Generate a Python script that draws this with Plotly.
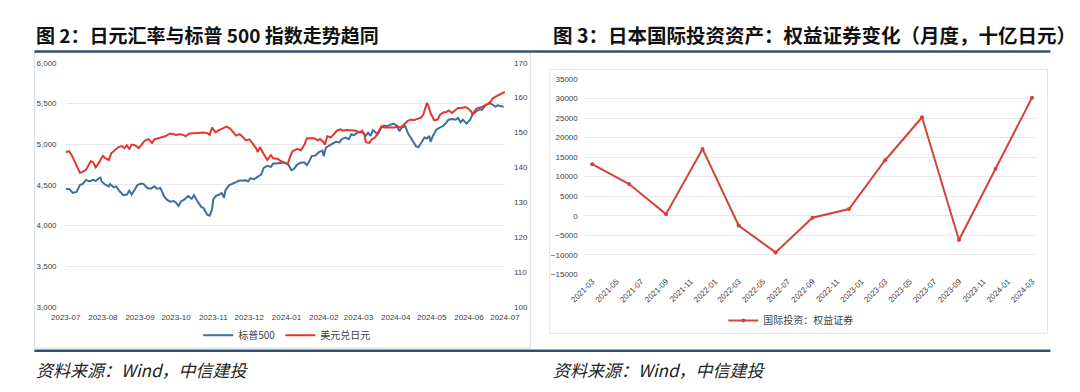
import plotly.graph_objects as go

# ---------------- data: left chart (S&P 500 vs USDJPY) ----------------
spx_dates = [
    "2023-07-01", "2023-07-04", "2023-07-07", "2023-07-10", "2023-07-13", "2023-07-15", "2023-07-18",
    "2023-07-21", "2023-07-24", "2023-07-26", "2023-07-29", "2023-07-30", "2023-07-31", "2023-08-03",
    "2023-08-06", "2023-08-07", "2023-08-10", "2023-08-12", "2023-08-15", "2023-08-18", "2023-08-21",
    "2023-08-23", "2023-08-25", "2023-08-27", "2023-08-30", "2023-09-02", "2023-09-04", "2023-09-07",
    "2023-09-10", "2023-09-13", "2023-09-15", "2023-09-18", "2023-09-21", "2023-09-23", "2023-09-26",
    "2023-09-29", "2023-10-01", "2023-10-03", "2023-10-05", "2023-10-08", "2023-10-11", "2023-10-14",
    "2023-10-16", "2023-10-19", "2023-10-22", "2023-10-24", "2023-10-27", "2023-10-29", "2023-10-31",
    "2023-11-01", "2023-11-03", "2023-11-06", "2023-11-08", "2023-11-10", "2023-11-11", "2023-11-14",
    "2023-11-17", "2023-11-20", "2023-11-22", "2023-11-25", "2023-11-28", "2023-11-30", "2023-12-02",
    "2023-12-05", "2023-12-08", "2023-12-11", "2023-12-13", "2023-12-16", "2023-12-19", "2023-12-21",
    "2023-12-24", "2023-12-27", "2023-12-29", "2024-01-01", "2024-01-03", "2024-01-05", "2024-01-07",
    "2024-01-10", "2024-01-13", "2024-01-16", "2024-01-18", "2024-01-20", "2024-01-22", "2024-01-25",
    "2024-01-28", "2024-01-31", "2024-02-01", "2024-02-03", "2024-02-06", "2024-02-08", "2024-02-11",
    "2024-02-14", "2024-02-16", "2024-02-19", "2024-02-22", "2024-02-24", "2024-02-26", "2024-02-29",
    "2024-03-02", "2024-03-05", "2024-03-07", "2024-03-09", "2024-03-11", "2024-03-13", "2024-03-15",
    "2024-03-17", "2024-03-20", "2024-03-22", "2024-03-25", "2024-03-28", "2024-03-30", "2024-04-02",
    "2024-04-04", "2024-04-06", "2024-04-09", "2024-04-11", "2024-04-13", "2024-04-16", "2024-04-18",
    "2024-04-20", "2024-04-22", "2024-04-25", "2024-04-27", "2024-04-29", "2024-04-30", "2024-05-02",
    "2024-05-05", "2024-05-08", "2024-05-11", "2024-05-13", "2024-05-15", "2024-05-18", "2024-05-21",
    "2024-05-23", "2024-05-25", "2024-05-27", "2024-05-30", "2024-06-02", "2024-06-04", "2024-06-07",
    "2024-06-10", "2024-06-12", "2024-06-15", "2024-06-18", "2024-06-20", "2024-06-23", "2024-06-25",
    "2024-06-27", "2024-06-30",
]
spx_values = [
    4448, 4448, 4400, 4412, 4500, 4508, 4560,
    4540, 4560, 4548, 4580, 4588, 4540, 4500,
    4480, 4508, 4468, 4480, 4420, 4372, 4380,
    4428, 4380, 4428, 4500, 4516, 4508, 4460,
    4452, 4480, 4452, 4460, 4360, 4320, 4292,
    4300, 4280, 4240, 4292, 4320, 4360, 4328,
    4372, 4292, 4228, 4212, 4132, 4120, 4200,
    4320, 4360, 4380, 4400, 4340, 4428, 4492,
    4508, 4532, 4548, 4548, 4556, 4540, 4580,
    4568, 4600, 4628, 4708, 4732, 4720, 4760,
    4760, 4772, 4772, 4760, 4740, 4680, 4692,
    4748, 4772, 4772, 4740, 4788, 4852, 4860,
    4900, 4920, 4852, 4960, 4988, 5000, 5028,
    5020, 5060, 5080, 5060, 5120, 5108, 5140,
    5148, 5140, 5100, 5140, 5100, 5172, 5140,
    5120, 5200, 5228, 5220, 5240, 5252, 5228,
    5160, 5200, 5220, 5140, 5092, 5020, 4972,
    4960, 5012, 5080, 5068, 5100, 5028, 5100,
    5180, 5200, 5228, 5260, 5300, 5308, 5300,
    5320, 5268, 5300, 5252, 5300, 5360, 5400,
    5428, 5420, 5480, 5500, 5492, 5460, 5476,
    5468, 5460,
]

jpy_dates = [
    "2023-07-01", "2023-07-04", "2023-07-06", "2023-07-08", "2023-07-11", "2023-07-13", "2023-07-15",
    "2023-07-18", "2023-07-21", "2023-07-22", "2023-07-24", "2023-07-26", "2023-07-28", "2023-07-30",
    "2023-08-01", "2023-08-03", "2023-08-06", "2023-08-08", "2023-08-11", "2023-08-14", "2023-08-17",
    "2023-08-19", "2023-08-21", "2023-08-23", "2023-08-25", "2023-08-28", "2023-08-31", "2023-09-03",
    "2023-09-05", "2023-09-08", "2023-09-11", "2023-09-13", "2023-09-17", "2023-09-19", "2023-09-22",
    "2023-09-26", "2023-09-29", "2023-10-01", "2023-10-04", "2023-10-07", "2023-10-09", "2023-10-12",
    "2023-10-16", "2023-10-20", "2023-10-24", "2023-10-27", "2023-10-29", "2023-10-31", "2023-11-03",
    "2023-11-05", "2023-11-10", "2023-11-12", "2023-11-15", "2023-11-18", "2023-11-20", "2023-11-23",
    "2023-11-26", "2023-11-28", "2023-12-01", "2023-12-04", "2023-12-07", "2023-12-08", "2023-12-10",
    "2023-12-12", "2023-12-14", "2023-12-16", "2023-12-19", "2023-12-21", "2023-12-25", "2023-12-27",
    "2023-12-30", "2024-01-02", "2024-01-04", "2024-01-06", "2024-01-08", "2024-01-10", "2024-01-13",
    "2024-01-16", "2024-01-18", "2024-01-21", "2024-01-24", "2024-01-27", "2024-01-29", "2024-02-01",
    "2024-02-02", "2024-02-04", "2024-02-07", "2024-02-09", "2024-02-12", "2024-02-15", "2024-02-17",
    "2024-02-20", "2024-02-23", "2024-02-26", "2024-02-28", "2024-03-02", "2024-03-04", "2024-03-06",
    "2024-03-07", "2024-03-10", "2024-03-12", "2024-03-15", "2024-03-18", "2024-03-20", "2024-03-23",
    "2024-03-26", "2024-03-28", "2024-03-31", "2024-04-03", "2024-04-05", "2024-04-08", "2024-04-11",
    "2024-04-14", "2024-04-16", "2024-04-19", "2024-04-22", "2024-04-24", "2024-04-26", "2024-04-27",
    "2024-04-28", "2024-04-30", "2024-05-02", "2024-05-03", "2024-05-06", "2024-05-08", "2024-05-11",
    "2024-05-13", "2024-05-15", "2024-05-18", "2024-05-21", "2024-05-23", "2024-05-26", "2024-05-29",
    "2024-05-31", "2024-06-03", "2024-06-04", "2024-06-07", "2024-06-09", "2024-06-12", "2024-06-15",
    "2024-06-17", "2024-06-19", "2024-06-21", "2024-06-23", "2024-06-26", "2024-06-28", "2024-06-30",
    "2024-07-01",
]
jpy_values = [
    144.4, 144.6, 143.5, 142.1, 140.2, 138.4, 138.7,
    139.3, 141.2, 141.8, 141.4, 140.0, 140.9, 142.1,
    143.3, 142.6, 142.1, 144.0, 144.9, 145.8, 146.1,
    145.5, 146.3, 145.2, 146.5, 146.3, 145.5, 146.7,
    147.7, 148.1, 147.0, 148.0, 148.3, 148.6, 148.9,
    149.7, 149.5, 149.3, 149.5, 149.3, 148.9, 149.7,
    149.8, 150.0, 150.0, 149.8, 149.3, 151.4, 150.0,
    150.5, 151.4, 151.7, 151.1, 150.0, 149.1, 149.5,
    148.6, 147.7, 148.0, 146.7, 145.3, 144.4, 145.8,
    144.4, 143.3, 142.1, 143.5, 142.6, 142.4, 141.8,
    141.4, 140.9, 143.0, 144.6, 144.9, 145.3, 144.9,
    146.5, 148.3, 148.3, 148.3, 147.7, 148.1, 147.2,
    146.5, 148.9, 148.6, 149.3, 150.5, 150.9, 150.5,
    150.7, 150.7, 150.7, 150.5, 150.0, 150.5, 149.3,
    147.2, 147.0, 148.0, 148.6, 150.5, 151.7, 151.4,
    151.4, 151.4, 151.4, 151.7, 151.4, 152.3, 153.3,
    153.7, 153.5, 153.9, 154.2, 155.1, 157.0, 158.4,
    157.9, 155.6, 154.2, 153.5, 153.7, 155.1, 155.8,
    155.8, 156.3, 155.6, 156.5, 157.0, 157.0, 157.3,
    157.0, 156.0, 155.1, 156.7, 157.0, 157.3, 157.9,
    158.2, 158.8, 159.8, 160.2, 160.7, 161.0, 161.3,
    161.6,
]

# ---------------- data: right chart (equity securities, quarterly) ----------------
eq_dates = [
    "2021-03-01", "2021-06-01", "2021-09-01", "2021-12-01", "2022-03-01", "2022-06-01", "2022-09-01",
    "2022-12-01", "2023-03-01", "2023-06-01", "2023-09-01", "2023-12-01", "2024-03-01",
]
eq_values = [13200, 8100, 400, 17100, -2500, -9400, -500, 1700, 14200, 25200, -6200, 12000, 30200]

title_left = "图 2：日元汇率与标普 500 指数走势趋同"
title_right = "图 3：日本国际投资资产：权益证券变化（月度，十亿日元）"
source_text = "资料来源：Wind，中信建投"

# ---------------- figure ----------------
W, H = 1080, 392
def px(x):
    return x / W
def py(y):
    return 1 - y / H

BLUE = "#3F6E9F"
RED = "#E2372C"
RED2 = "#D2443A"
TICK = dict(family="Liberation Sans, Arial, sans-serif", size=8, color="#404040")
CJK = "Noto Sans CJK SC"

fig = go.Figure()
fig.add_trace(go.Scatter(x=spx_dates, y=spx_values, name="标普500", mode="lines",
                         line=dict(color=BLUE, width=2), xaxis="x", yaxis="y", legend="legend"))
fig.add_trace(go.Scatter(x=jpy_dates, y=jpy_values, name="美元兑日元", mode="lines",
                         line=dict(color=RED, width=2), xaxis="x", yaxis="y2", legend="legend"))
fig.add_trace(go.Scatter(x=eq_dates, y=eq_values, name="国际投资：权益证券", mode="lines+markers",
                         line=dict(color=RED2, width=2), marker=dict(color=RED2, size=4),
                         xaxis="x2", yaxis="y3", legend="legend2"))

fig.update_layout(
    width=W, height=H, autosize=False,
    margin=dict(l=0, r=0, t=0, b=0),
    paper_bgcolor="white", plot_bgcolor="white",
    font=dict(family=CJK, color="#333"),
    xaxis=dict(domain=[px(52), px(504)], type="date", anchor="y",
               range=["2023-06-30 22:00", "2024-07-01 02:00"],
               tick0="2023-07-01", dtick="M1", tickformat="%Y-%m",
               showgrid=False, zeroline=False, showline=False, ticks="",
               tickfont=TICK, ticklabelstandoff=4),
    yaxis=dict(domain=[py(310), py(60)], range=[2999, 6001], dtick=500, tickformat=",",
               gridcolor="#E8E8E8", gridwidth=1, zeroline=False, showline=False, ticks="",
               tickfont=TICK, anchor="x", ticklabelstandoff=8),
    yaxis2=dict(overlaying="y", side="right", anchor="x", range=[100 - 0.02, 170 + 0.02], dtick=10,
                showgrid=False, zeroline=False, showline=False, ticks="",
                tickfont=TICK, ticklabelstandoff=8),
    xaxis2=dict(domain=[px(585), px(1051)], type="date", anchor="y3",
                range=["2021-02-08", "2024-03-13"],
                tick0="2021-03-01", dtick="M2", tickformat="%Y-%m", tickangle=-45,
                showgrid=False, zeroline=False, showline=False, ticks="",
                tickfont=TICK),
    yaxis3=dict(domain=[py(276.7), py(76.7)], range=[-15010, 35010], dtick=5000, tickformat="d",
                anchor="x2", gridcolor="#E8E8E8", zeroline=False, showline=False, ticks="",
                tickfont=TICK, ticklabelstandoff=5),
    legend=dict(orientation="h", x=px(280), xanchor="center", y=py(339), yanchor="middle",
                font=dict(family=CJK, size=10, color="#404040"), bgcolor="rgba(0,0,0,0)",
                itemwidth=30, tracegroupgap=0),
    legend2=dict(orientation="h", x=px(798), xanchor="center", y=py(324), yanchor="middle",
                 font=dict(family=CJK, size=10, color="#404040"), bgcolor="rgba(0,0,0,0)",
                 itemwidth=30),
    showlegend=True,
)

shapes = [
    # chart frames
    dict(type="rect", xref="paper", yref="paper", x0=px(20), x1=px(530), y0=py(352), y1=py(50),
         line=dict(color="#D3DEEA", width=1), fillcolor="rgba(0,0,0,0)", layer="below"),
    dict(type="rect", xref="paper", yref="paper", x0=px(550), x1=px(1062), y0=py(337), y1=py(67),
         line=dict(color="#E4E4E4", width=1), fillcolor="rgba(0,0,0,0)", layer="below"),
    # title underline and bottom rule
    dict(type="line", xref="paper", yref="paper", x0=px(20), x1=px(1065), y0=py(48.5), y1=py(48.5),
         line=dict(color="#34506C", width=2.5)),
    dict(type="line", xref="paper", yref="paper", x0=px(20), x1=px(1065), y0=py(355), y1=py(355),
         line=dict(color="#34506C", width=2.5)),
]
fig.update_layout(shapes=shapes)

annotations = [
    dict(text="<b>" + title_left + "</b>", x=px(20), y=py(31), xref="paper", yref="paper",
         xanchor="left", yanchor="middle", showarrow=False,
         font=dict(family=CJK, size=19, color="#111111")),
    dict(text="<b>" + title_right + "</b>", x=px(551), y=py(31), xref="paper", yref="paper",
         xanchor="left", yanchor="middle", showarrow=False,
         font=dict(family=CJK, size=19.5, color="#111111")),
    dict(text="<i>" + source_text + "</i>", x=px(20), y=py(374), xref="paper", yref="paper",
         xanchor="left", yanchor="middle", showarrow=False,
         font=dict(family=CJK, size=17, color="#222222")),
    dict(text="<i>" + source_text + "</i>", x=px(551), y=py(374), xref="paper", yref="paper",
         xanchor="left", yanchor="middle", showarrow=False,
         font=dict(family=CJK, size=17, color="#222222")),
]
fig.update_layout(annotations=annotations)

fig.write_html(
    "out.html",
    config={"displayModeBar": False},
    post_script="document.body.style.margin='0';document.body.style.overflow='hidden';",
)
